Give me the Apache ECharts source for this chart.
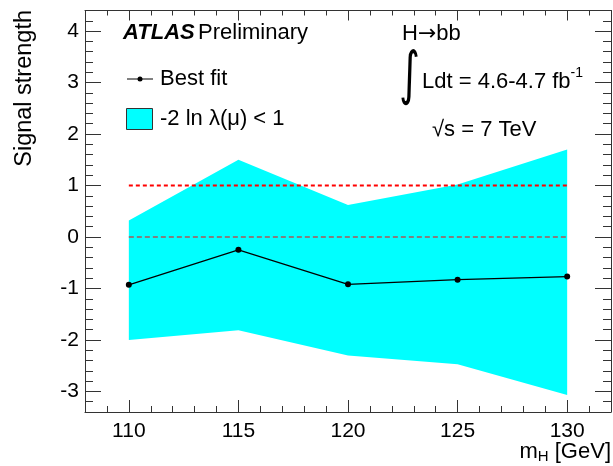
<!DOCTYPE html>
<html>
<head>
<meta charset="utf-8">
<script src="https://cdn.jsdelivr.net/npm/echarts@6/dist/echarts.min.js"></script>
<style>
html,body{margin:0;padding:0;background:#fff}
#main{width:613px;height:466px}
</style>
</head>
<body>
<div id="main"></div>
<script>
// 数据
var masses=[110,115,120,125,130];
var bestFit=[-0.93,-0.25,-0.92,-0.83,-0.77];
var bandUp=[0.32,1.50,0.62,1.02,1.70];
var bandLow=[-2.00,-1.81,-2.30,-2.47,-3.07];
var xTicks=[110,115,120,125,130];
var yTicks=[-3,-2,-1,0,1,2,3,4];
var refOne=1, refZero=0;

var FONT='"Liberation Sans", Arial, Helvetica, sans-serif';
var FRAME='#333';

function pairs(xs,ys){
  return xs.map(function(x,i){return [x,ys[i]]});
}
var bandRows=masses.map(function(m,i){return [m,bandLow[i],bandUp[i]]});

function xAx(pos,major,len){
  var a={type:'value',position:pos,min:108,max:132,
    splitLine:{show:false},
    axisLine:{show:major,onZero:false,lineStyle:{color:FRAME,width:1}},
    axisTick:{show:true,inside:true,length:len,lineStyle:{color:FRAME,width:1}},
    axisLabel:{show:false}};
  if(major){
    a.axisTick.customValues=xTicks;
    if(pos=='bottom'){
      a.axisLabel={show:true,customValues:xTicks,fontFamily:FONT,fontSize:21,color:'#000',margin:9};
    }
  }else{
    a.interval=1;
  }
  return a;
}
function yAx(pos,major,len){
  var a={type:'value',position:pos,min:-3.4,max:4.4,
    splitLine:{show:false},
    axisLine:{show:major,onZero:false,lineStyle:{color:FRAME,width:1}},
    axisTick:{show:true,inside:true,length:len,lineStyle:{color:FRAME,width:1}},
    axisLabel:{show:false}};
  if(major){
    a.axisTick.customValues=yTicks;
    if(pos=='left'){
      a.axisLabel={show:true,customValues:yTicks,fontFamily:FONT,fontSize:21,color:'#000',margin:6};
    }
  }else{
    a.interval=0.2;
  }
  return a;
}

// 误差带：一个多边形，上沿从左到右，下沿从右到左
function renderBand(params,api){
  if(params.dataIndex!==0) return;
  var pts=[];
  bandRows.forEach(function(r){pts.push(api.coord([r[0],r[2]]))});
  bandRows.slice().reverse().forEach(function(r){pts.push(api.coord([r[0],r[1]]))});
  return {type:'polygon',shape:{points:pts},style:{fill:'#00ffff'}};
}

var chart=echarts.init(document.getElementById('main'));
chart.setOption({
  animation:false,
  grid:{left:85,right:2,top:10.5,bottom:54,containLabel:false},
  xAxis:[xAx('bottom',true,12),xAx('bottom',false,6),xAx('top',true,10),xAx('top',false,5)],
  yAxis:[yAx('left',true,16),yAx('left',false,8),yAx('right',true,16),yAx('right',false,8)],
  series:[
    {type:'custom',renderItem:renderBand,data:bandRows,encode:{x:0,y:[1,2]},silent:true,z:1},
    {type:'line',data:[[110,refOne],[130,refOne]],symbol:'none',z:2,
      lineStyle:{color:'#ff0000',width:2,type:[4,3]}},
    {type:'line',data:[[110,refZero],[130,refZero]],symbol:'none',z:2,
      lineStyle:{color:'#808080',width:2,type:[5,3]}},
    {type:'line',data:pairs(masses,bestFit),symbol:'circle',symbolSize:6,z:3,
      itemStyle:{color:'#000'},lineStyle:{color:'#000',width:1.2}}
  ],
  graphic:[
    // y轴标题
    {type:'text',x:25,y:10,rotation:Math.PI/2,
      style:{text:'Signal strength',font:'23.5px '+FONT,fill:'#000',align:'right',verticalAlign:'middle'}},
    // x轴标题
    {type:'text',x:611,y:452,
      style:{text:'{a|m}{s|H}{a| [GeV]}',align:'right',verticalAlign:'middle',
        rich:{a:{fontFamily:FONT,fontSize:22,fill:'#000'},
              s:{fontFamily:FONT,fontSize:15,fill:'#000',padding:[10,0,0,0]}}}},
    {type:'text',x:123,y:33,
      style:{text:'{b|ATLAS} {n|Preliminary}',verticalAlign:'middle',
        rich:{b:{fontFamily:FONT,fontSize:22,fontWeight:'bold',fontStyle:'italic',fill:'#000'},
              n:{fontFamily:FONT,fontSize:22,fill:'#000'}}}},
    // 图例
    {type:'line',shape:{x1:127,y1:79,x2:153,y2:79},style:{stroke:'#000',lineWidth:1}},
    {type:'circle',shape:{cx:140,cy:79,r:2.5},style:{fill:'#000'}},
    {type:'text',x:160,y:79,style:{text:'Best fit',font:'22px '+FONT,fill:'#000',verticalAlign:'middle'}},
    {type:'rect',shape:{x:126.5,y:108.5,width:26,height:21},style:{fill:'#00ffff',stroke:'#333',lineWidth:1}},
    {type:'text',x:160,y:119,style:{text:'-2 ln \u03bb(\u03bc) < 1',font:'22px '+FONT,fill:'#000',verticalAlign:'middle'}},
    // 右上文字
    {type:'text',x:402,y:34,style:{text:'{a|H}{r|\u2192}{a|bb}',verticalAlign:'middle',
      rich:{a:{fontFamily:FONT,fontSize:22,fill:'#000'},r:{fontFamily:'"DejaVu Sans", sans-serif',fontSize:22,fill:'#000'}}}},
    {type:'text',x:399,y:78,scaleY:1.45,style:{text:'\u222b',font:'40px "DejaVu Sans", sans-serif',fill:'#000',verticalAlign:'middle'}},
    {type:'text',x:422,y:82,
      style:{text:'{a|Ldt = 4.6-4.7 fb}{s|-1}',verticalAlign:'middle',
        rich:{a:{fontFamily:FONT,fontSize:22,fill:'#000'},
              s:{fontFamily:FONT,fontSize:14,fill:'#000',padding:[0,0,18,0]}}}},
    {type:'text',x:432,y:130,style:{text:'\u221as = 7 TeV',font:'22px '+FONT,fill:'#000',verticalAlign:'middle'}}
  ]
});
</script>
</body>
</html>
